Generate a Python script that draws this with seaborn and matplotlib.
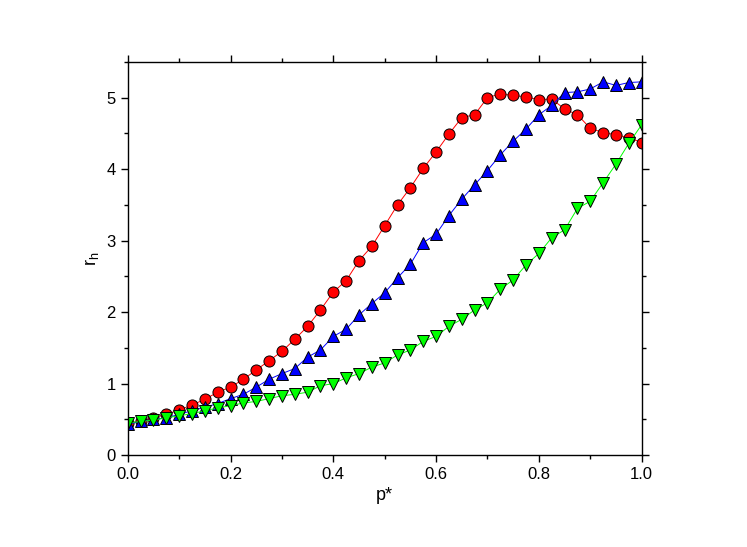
import numpy as np
import pandas as pd
import matplotlib
matplotlib.use("Agg")
import matplotlib.pyplot as plt
import seaborn as sns
from matplotlib.ticker import MultipleLocator

p = [i * 0.025 for i in range(41)]
red = [0.45,0.47,0.52,0.57,0.63,0.70,0.78,0.88,0.95,1.06,1.19,1.32,1.45,1.62,1.80,2.03,2.28,2.44,2.72,2.92,3.21,3.50,3.74,4.01,4.24,4.49,4.72,4.76,5.00,5.05,5.03,5.01,4.97,4.98,4.84,4.76,4.57,4.51,4.48,4.44,4.37]
blue = [0.43,0.47,0.50,0.52,0.57,0.62,0.67,0.72,0.79,0.85,0.95,1.06,1.14,1.21,1.37,1.47,1.66,1.76,1.96,2.12,2.27,2.48,2.67,2.97,3.09,3.35,3.58,3.78,3.98,4.20,4.39,4.56,4.76,4.89,5.07,5.08,5.12,5.22,5.17,5.21,5.22]
green = [0.45,0.47,0.49,0.52,0.55,0.58,0.62,0.66,0.69,0.73,0.75,0.79,0.83,0.85,0.88,0.97,1.00,1.08,1.14,1.23,1.29,1.40,1.47,1.59,1.66,1.80,1.90,2.03,2.13,2.32,2.45,2.66,2.82,3.04,3.15,3.45,3.55,3.81,4.07,4.36,4.62]

plt.rcParams["font.family"] = "Liberation Sans"
plt.rcParams["mathtext.fontset"] = "custom"
plt.rcParams["mathtext.rm"] = "Liberation Sans"
fig = plt.figure(figsize=(7.47, 5.47), dpi=100)
ax = fig.add_axes([0.171, 0.168, 0.688, 0.719])

for ys, col, mk in [(red, "#ff0000", "o"), (blue, "#0000ff", "^"), (green, "#00ff00", "v")]:
    df = pd.DataFrame({"p": p, "r": ys})
    sns.lineplot(data=df, x="p", y="r", ax=ax, color=col, lw=0.7, marker=mk,
                 markersize=8, markerfacecolor=col, markeredgecolor="black",
                 markeredgewidth=0.7)

ax.set_xlim(0, 1)
ax.set_ylim(0, 5.5)
ax.xaxis.set_major_locator(MultipleLocator(0.2))
ax.xaxis.set_minor_locator(MultipleLocator(0.1))
ax.yaxis.set_major_locator(MultipleLocator(1))
ax.yaxis.set_minor_locator(MultipleLocator(0.5))
ax.tick_params(which="both", top=True, right=True, labeltop=False, labelright=False,
               labelsize=12, width=1)
ax.tick_params(which="major", length=5)
ax.tick_params(which="minor", length=3)
for s in ax.spines.values():
    s.set_linewidth(1)
ax.set_xlabel("p*", fontsize=13)
ax.set_ylabel(r"r$_\mathrm{h}$", fontsize=13)
fig.savefig("out.png", dpi=100)
